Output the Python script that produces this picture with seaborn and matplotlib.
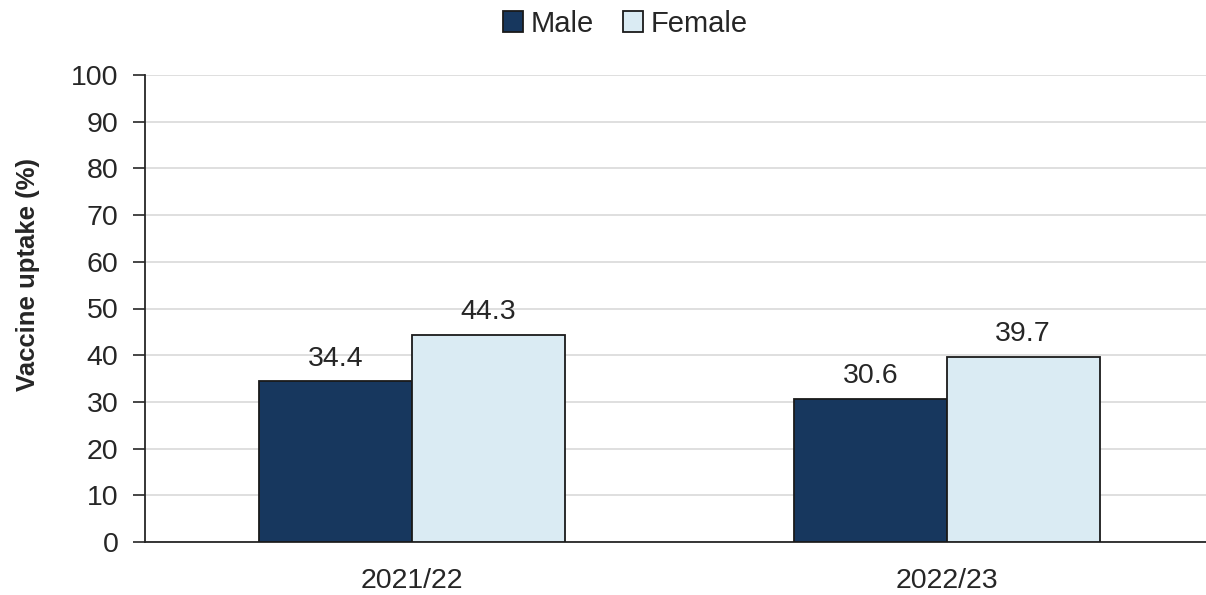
import pandas as pd
import matplotlib
matplotlib.use("Agg")
import matplotlib.pyplot as plt
import seaborn as sns

# Values
seasons = ["2021/22", "2022/23"]
male_uptake = [34.4, 30.6]
female_uptake = [44.3, 39.7]
groups = ["Male", "Female"]
colours = ["#17375E", "#DAEBF3"]

df = pd.DataFrame({
    "season": seasons * 2,
    "sex": [groups[0]] * len(seasons) + [groups[1]] * len(seasons),
    "uptake": male_uptake + female_uptake,
})

sns.set_theme(style="white")
plt.rcParams["font.family"] = ["Liberation Sans", "DejaVu Sans"]

fig = plt.figure(figsize=(12.06, 5.95), dpi=100)
ax = fig.add_axes([145 / 1206, 1 - 542 / 595, 1069 / 1206, 467 / 595])

sns.barplot(data=df, x="season", y="uptake", hue="sex", palette=colours,
            saturation=1, width=0.572, edgecolor="#1A1A1A", linewidth=1.3,
            ax=ax, zorder=3)

# Value labels above each bar
for container in ax.containers:
    ax.bar_label(container, fmt="%.1f", padding=7, fontsize=20.5, color="#262626")

ax.set_ylim(0, 100)
ax.set_xlim(-0.5, 1.5)
ax.set_yticks(range(0, 101, 10))
ax.yaxis.grid(True, color="#D9D9D9", linewidth=1.2, zorder=0)
ax.set_axisbelow(True)

for side in ["top", "right"]:
    ax.spines[side].set_visible(False)
for side in ["left", "bottom"]:
    ax.spines[side].set_color("#262626")
    ax.spines[side].set_linewidth(1.3)

ax.tick_params(axis="y", direction="out", length=9, width=1.2, color="#262626",
               labelsize=20.5, labelcolor="#262626", pad=10, left=True)
ax.tick_params(axis="x", length=0, labelsize=20.5, labelcolor="#262626", pad=19)

ax.set_xlabel("")
ax.set_ylabel("Vaccine uptake (%)", fontsize=18.5, fontweight="bold", color="#262626")
ax.yaxis.set_label_coords(-0.098, 0.572)

handles, labels = ax.get_legend_handles_labels()
ax.legend_.remove()
fig.legend(handles, labels, loc="upper center", bbox_to_anchor=(625 / 1206, 1.028),
           ncol=2, frameon=False, fontsize=21, handlelength=0.7, handleheight=0.7,
           handletextpad=0.25, columnspacing=1.0)

fig.savefig("out.png", dpi=100)
